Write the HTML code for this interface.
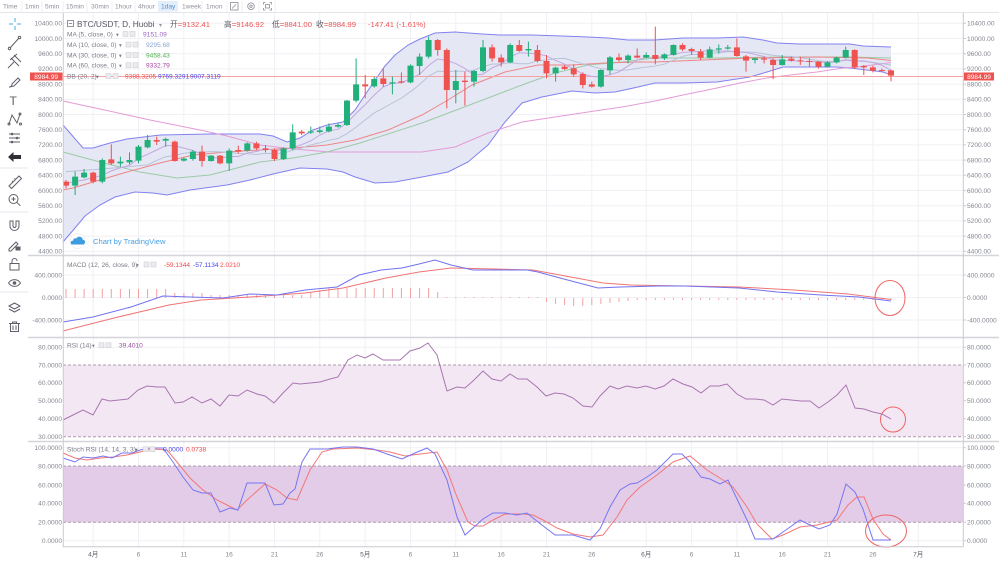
<!DOCTYPE html>
<html><head><meta charset="utf-8"><style>
html,body{margin:0;padding:0;background:#fff;width:999px;height:562px;overflow:hidden}
svg{display:block;font-family:"Liberation Sans","Noto Sans CJK SC",sans-serif}
.ax{font-size:6.6px;fill:#858892}
.lg{font-size:6.6px;fill:#7a7d87}
.tb{font-size:6.6px;fill:#90939c}
.ic{fill:none;stroke:#5d6068;stroke-width:1}
</style></head><body>
<svg width="999" height="562" viewBox="0 0 999 562" xmlns="http://www.w3.org/2000/svg">
<rect width="999" height="562" fill="#fff"/>

<!-- top bar -->
<line x1="0" y1="12.5" x2="999" y2="12.5" stroke="#e4e5ea"/>
<rect x="158" y="1" width="20" height="10.5" fill="#e4eefa"/>
<g stroke="#efeff2">
<line x1="22" y1="1" x2="22" y2="12"/><line x1="42" y1="1" x2="42" y2="12"/><line x1="63" y1="1" x2="63" y2="12"/><line x1="87" y1="1" x2="87" y2="12"/><line x1="112" y1="1" x2="112" y2="12"/><line x1="135" y1="1" x2="135" y2="12"/><line x1="202" y1="1" x2="202" y2="12"/><line x1="227" y1="1" x2="227" y2="12"/><line x1="242" y1="1" x2="242" y2="12"/><line x1="259" y1="1" x2="259" y2="12"/><line x1="275" y1="1" x2="275" y2="12"/>
</g>
<text class="tb" x="3" y="8.6">Time</text>
<text class="tb" x="25" y="8.6">1min</text>
<text class="tb" x="45" y="8.6">5min</text>
<text class="tb" x="66" y="8.6">15min</text>
<text class="tb" x="91" y="8.6">30min</text>
<text class="tb" x="115" y="8.6">1hour</text>
<text class="tb" x="138" y="8.6">4hour</text>
<text class="tb" x="161" y="8.6" style="fill:#4d8fd6">1day</text>
<text class="tb" x="182" y="8.6">1week</text>
<text class="tb" x="206" y="8.6">1mon</text>
<g fill="none" stroke="#8a8d96" stroke-width="0.8">
<rect x="230.5" y="2.5" width="7.5" height="7.5"/><path d="M232,8.5l4,-4"/>
<circle cx="251" cy="6.2" r="3.3"/><circle cx="251" cy="6.2" r="1.2"/>
<path d="M263.5,4.5v-2h2M269.5,2.5h2v2M271.5,8v2h-2M265.5,10h-2v-2"/><rect x="265.5" y="4.5" width="4" height="3.5"/>
</g>

<!-- left toolbar -->
<g stroke="#e6e7ec"><line x1="0" y1="168" x2="28" y2="168"/><line x1="0" y1="212" x2="28" y2="212"/><line x1="0" y1="292" x2="28" y2="292"/></g>
<path d="M15,18v4M15,26v4M9,24h4M17,24h4" stroke="#4aa8e8" stroke-width="1" fill="none"/>
<path class="ic" d="M10,48L19,38"/><circle class="ic" cx="9.5" cy="48.5" r="1.2"/><circle class="ic" cx="19.5" cy="37.5" r="1.2"/>
<path class="ic" d="M8,68L14,62M11,58l8,8M14,55l7,7M10,60l7,-6"/>
<path class="ic" d="M9,87c2,0 3,-1 3,-3l6,-6 2,2-6,6c-2,0-2,1-5,1z"/>
<text x="9.5" y="105" style="font-size:12px;fill:#5d6068">T</text>
<path class="ic" d="M9,124L12,115L17,123L20,114"/><circle class="ic" cx="9" cy="124" r="1"/><circle class="ic" cx="20" cy="114" r="1"/><circle class="ic" cx="20.5" cy="124" r="1"/>
<path class="ic" d="M9,134h11M9,138h11M9,142h11"/><circle cx="12" cy="134" r="1.3" fill="#5d6068"/><circle cx="17" cy="138" r="1.3" fill="#5d6068"/><circle cx="12" cy="142" r="1.3" fill="#5d6068"/>
<path d="M8,157l5.5,-5v3h7.5v4h-7.5v3z" fill="#2f3136"/>
<path class="ic" d="M9,186l10,-10 2.5,2.5 -10,10z M12,181l1.3,1.3M14.5,178.5l1.3,1.3"/>
<circle class="ic" cx="13.5" cy="199" r="4.5"/><path class="ic" d="M16.8,202.3l3.5,3.5M11.5,199h4M13.5,197v4"/>
<path class="ic" d="M10,221v5a4.5,4.5 0 0 0 9,0v-5h-3v5a1.5,1.5 0 0 1 -3,0v-5z"/>
<path class="ic" d="M9,249l7,-7 2,2 -7,7h-2z"/><rect x="15.5" y="246.5" width="5" height="4" fill="#5d6068"/>
<rect class="ic" x="10" y="263.5" width="9" height="6.5"/><path class="ic" d="M12,263.5v-2.5a2.5,2.5 0 0 1 5,0"/>
<path class="ic" d="M8.5,283c3,-4.5 9,-4.5 12,0c-3,4.5 -9,4.5 -12,0z"/><circle cx="14.5" cy="283" r="1.8" fill="#5d6068"/>
<path class="ic" d="M9,306l5.5,-3 5.5,3 -5.5,3z M9,309l5.5,3 5.5,-3"/>
<path class="ic" d="M10.5,323.5v8h8v-8M9,323.5h11M12.5,323.5v-1.5h4v1.5M13,325.5v4.5M16,325.5v4.5"/>

<!-- grid -->
<g stroke="#f1f1f5" stroke-width="1">
<line x1="63" y1="23.3" x2="963" y2="23.3"/><line x1="63" y1="38.5" x2="963" y2="38.5"/><line x1="63" y1="53.7" x2="963" y2="53.7"/><line x1="63" y1="68.9" x2="963" y2="68.9"/><line x1="63" y1="84.1" x2="963" y2="84.1"/><line x1="63" y1="99.3" x2="963" y2="99.3"/><line x1="63" y1="114.5" x2="963" y2="114.5"/><line x1="63" y1="129.7" x2="963" y2="129.7"/><line x1="63" y1="144.9" x2="963" y2="144.9"/><line x1="63" y1="160.1" x2="963" y2="160.1"/><line x1="63" y1="175.3" x2="963" y2="175.3"/><line x1="63" y1="190.5" x2="963" y2="190.5"/><line x1="63" y1="205.7" x2="963" y2="205.7"/><line x1="63" y1="220.9" x2="963" y2="220.9"/><line x1="63" y1="236.1" x2="963" y2="236.1"/><line x1="63" y1="251.3" x2="963" y2="251.3"/>
<line x1="63" y1="275" x2="963" y2="275"/><line x1="63" y1="297.5" x2="963" y2="297.5"/><line x1="63" y1="320" x2="963" y2="320"/>
<line x1="63" y1="347.3" x2="963" y2="347.3"/><line x1="63" y1="382.7" x2="963" y2="382.7"/><line x1="63" y1="400.7" x2="963" y2="400.7"/><line x1="63" y1="418.7" x2="963" y2="418.7"/>
<line x1="63" y1="447.7" x2="963" y2="447.7"/><line x1="63" y1="485" x2="963" y2="485"/><line x1="63" y1="503.3" x2="963" y2="503.3"/><line x1="63" y1="540.7" x2="963" y2="540.7"/>
<line x1="93.2" y1="13" x2="93.2" y2="547"/><line x1="138.5" y1="13" x2="138.5" y2="547"/><line x1="183.9" y1="13" x2="183.9" y2="547"/><line x1="229.2" y1="13" x2="229.2" y2="547"/><line x1="274.5" y1="13" x2="274.5" y2="547"/><line x1="319.8" y1="13" x2="319.8" y2="547"/><line x1="365.2" y1="13" x2="365.2" y2="547"/><line x1="410.5" y1="13" x2="410.5" y2="547"/><line x1="455.8" y1="13" x2="455.8" y2="547"/><line x1="501.2" y1="13" x2="501.2" y2="547"/><line x1="546.5" y1="13" x2="546.5" y2="547"/><line x1="591.8" y1="13" x2="591.8" y2="547"/><line x1="646.2" y1="13" x2="646.2" y2="547"/><line x1="691.6" y1="13" x2="691.6" y2="547"/><line x1="736.9" y1="13" x2="736.9" y2="547"/><line x1="782.2" y1="13" x2="782.2" y2="547"/><line x1="827.5" y1="13" x2="827.5" y2="547"/><line x1="872.9" y1="13" x2="872.9" y2="547"/><line x1="918.2" y1="13" x2="918.2" y2="547"/>
</g>

<!-- BB fill -->
<polygon fill="#e6e7f5" points="63,125 70,133 83,148 93,148 110,143 127,139 160,135 210,134 260,134 273,136 287,142 300,138 313,130 327,125 343,122 355,110 365,95 375,80 385,66 395,55 408,45 420,39 435,33 455,32 482,34 500,35 532,35 562,36 588,37 608,38 628,40 655,40 683,38 717,38 743,37 763,40 777,43 800,44 837,44 850,44 863,46 891,47 891,75 883,72 867,70 850,68 837,67 817,67 783,67 767,72 750,77 717,82 683,83 655,83 638,87 615,92 595,93 572,91 542,97 522,103 505,122 488,145 468,162 448,172 422,177 395,182 375,183 355,177 343,172 327,169 300,168 273,174 250,180 227,185 190,190 167,195 153,193 135,192 115,197 100,205 85,216 75,228 63,242"/>
<g fill="none" stroke="#8282ee" stroke-width="1">
<polyline points="63,125 70,133 83,148 93,148 110,143 127,139 160,135 210,134 260,134 273,136 287,142 300,138 313,130 327,125 343,122 355,110 365,95 375,80 385,66 395,55 408,45 420,39 435,33 455,32 482,34 500,35 532,35 562,36 588,37 608,38 628,40 655,40 683,38 717,38 743,37 763,40 777,43 800,44 837,44 850,44 863,46 891,47"/>
<polyline points="891,75 883,72 867,70 850,68 837,67 817,67 783,67 767,72 750,77 717,82 683,83 655,83 638,87 615,92 595,93 572,91 542,97 522,103 505,122 488,145 468,162 448,172 422,177 395,182 375,183 355,177 343,172 327,169 300,168 273,174 250,180 227,185 190,190 167,195 153,193 135,192 115,197 100,205 85,216 75,228 63,242"/>
</g>
<!-- MA60 pink -->
<polyline fill="none" stroke="#e39bd6" stroke-width="1" points="63,101 100,109 150,120 200,130 227,136 260,145 293,149 330,152 380,152 422,152 455,147 488,133 522,122 555,117 588,112 622,107 655,101 683,95 717,88 740,83 767,78 790,75 817,72 843,68 857,67 891,62.5"/>
<!-- MA30 green -->
<polyline fill="none" stroke="#9ccaa6" stroke-width="1" points="63,152 100,162 140,172 177,178 210,175 260,162 293,158 327,152 360,143 422,123 488,98 522,85 555,73 588,65 622,62 655,58 717,58 783,57 850,57 891,58"/>
<!-- BB basis red -->
<polyline fill="none" stroke="#ec8686" stroke-width="1" points="63,190 73,188 93,182 127,172 160,163 193,155 227,152 260,150 293,148 327,145 355,140 388,130 422,115 448,100 472,85 505,72 538,65 572,65 605,63 638,62 655,62 750,58 817,57 867,58 891,60.5"/>

<!-- price line -->
<line x1="63" y1="76.5" x2="963" y2="76.5" stroke="#f5a3a3" stroke-width="1"/>

<!-- MA5, MA10 and candles in zoom-space (y = 15 + z/3) -->
<g transform="translate(0,15) scale(1,0.333333)">
<polyline fill="none" stroke="#b7c3d8" stroke-width="1" vector-effect="non-scaling-stroke" points="66,470 102,462 129,455 147.6,449.5 156.7,436.3 165.7,425.1 174.8,421.6 183.9,414.7 192.9,412.2 202,411.5 211.1,409.7 220.1,410.7 229.2,411.9 238.3,415.4 247.3,415.9 256.4,418.6 265.5,415.3 274.5,415.4 283.6,414.4 292.7,405.8 301.7,399.1 310.8,389.5 319.8,383.4 328.9,375.9 338,370.4 347,356.1 356.1,336.4 365.2,314.6 374.2,293.8 383.3,279.3 392.4,264 401.4,249.4 410.5,230 419.6,209 428.6,183.5 437.7,168.3 446.8,170 455.8,168.4 464.9,169.2 474,165.3 483,154.8 492.1,147.5 501.2,146.5 510.2,143 519.3,146.3 528.4,146.1 537.4,137.4 546.5,135.1 555.6,130.9 564.6,130.3 573.7,138.4 582.8,146.4 591.8,153.7 600.9,161.2 610,163.1 619,166.3 628.1,164.7 637.2,160 646.2,156.2 655.3,153.2 664.4,147.2 673.4,135.2 682.5,124 691.6,118.3 700.6,118.4 709.7,115.2 718.8,113.1 727.8,110.1 736.9,110.4 746,110.9 755,112.2 764.1,116.5 773.1,121.2 782.2,123.7 791.3,124.6 800.3,128.1 809.4,132 818.5,137.7 827.5,139.6 836.6,138.7 845.7,136.1 854.7,138.5 863.8,139.2 872.9,142.6 881.9,145.7 891,150.1"/>
<polyline fill="none" stroke="#c2a8e0" stroke-width="1" vector-effect="non-scaling-stroke" points="66,505 84,495 102.3,481 111.3,467.6 120.4,458.6 129.5,451 138.5,430 147.6,418 156.7,405 165.7,391.6 174.8,392.2 183.9,399.4 192.9,406.4 202,418 211.1,427.8 220.1,429.2 229.2,424.4 238.3,424.4 247.3,413.8 256.4,409.4 265.5,401.4 274.5,406.4 283.6,404.4 292.7,397.8 301.7,388.8 310.8,377.6 319.8,360.4 328.9,347.4 338,343 347,323.4 356.1,295.2 365.2,268.8 374.2,240.2 383.3,215.6 392.4,204.6 401.4,203.6 410.5,191.2 419.6,177.8 428.6,151.4 437.7,132 446.8,136.4 455.8,145.6 464.9,160.6 474,179.2 483,177.6 492.1,158.6 501.2,147.4 510.2,125.4 519.3,113.4 528.4,114.6 537.4,116.2 546.5,122.8 555.6,136.4 564.6,147.2 573.7,162.2 582.8,176.6 591.8,184.6 600.9,186 610,179 619,170.4 628.1,152.8 637.2,135.4 646.2,126.4 655.3,127.4 664.4,124 673.4,117.6 682.5,112.6 691.6,110.2 700.6,109.4 709.7,106.4 718.8,108.6 727.8,107.6 736.9,110.6 746,112.4 755,118 764.1,124.4 773.1,134.8 782.2,136.8 791.3,136.8 800.3,138.2 809.4,139.6 818.5,140.6 827.5,142.4 836.6,140.6 845.7,134 854.7,137.4 863.8,137.8 872.9,142.8 881.9,150.8 891,166.2"/>
<!-- green wicks -->
<path fill="none" stroke="#22ab78" stroke-width="1" vector-effect="non-scaling-stroke" d="M75.1,470V540M84.1,462V490M102.3,430V505M120.4,425V455M129.5,412V448M138.5,390V445M147.6,360V400M165.7,368V395M183.9,428V440M192.9,405V437M211.1,420V440M229.2,400V468M247.3,382V410M283.6,397V435M292.7,328V405M310.8,335V357M319.8,335V356M328.9,325V352M338,325V338M347,255V333M356.1,130V262M374.2,185V218M392.4,185V238M410.5,148V205M419.6,115V180M428.6,65V130M455.8,165V265M474,165V215M483,75V172M510.2,85V145M528.4,80V125M555.6,155V200M600.9,163V218M610,123V178M628.1,118V145M646.2,112V130M664.4,115V135M673.4,88V122M709.7,95V130M718.8,88V116M727.8,90V104M755,128V145M782.2,120V152M827.5,138V158M836.6,125V145M845.7,95V130"/>
<!-- green bodies -->
<path fill="#22b07a" d="M72.1,485h6V512h-6ZM81.1,473h6V487h-6ZM99.3,435h6V500h-6ZM117.4,440h6V445h-6ZM126.5,435h6V442h-6ZM135.5,395h6V437h-6ZM144.6,375h6V397h-6ZM162.7,372h6V377h-6ZM180.9,431h6V437h-6ZM189.9,410h6V432h-6ZM208.1,422h6V438h-6ZM226.2,407h6V445h-6ZM244.3,385h6V407h-6ZM280.6,400h6V432h-6ZM289.7,352h6V400h-6ZM307.8,349h6V353h-6ZM316.8,346h6V351h-6ZM325.9,335h6V349h-6ZM335,330h6V335h-6ZM344,257h6V330h-6ZM353.1,208h6V257h-6ZM371.2,192h6V214h-6ZM389.4,202h6V206h-6ZM407.5,152h6V202h-6ZM416.6,125h6V153h-6ZM425.6,75h6V125h-6ZM452.8,198h6V225h-6ZM471,168h6V200h-6ZM480,97h6V168h-6ZM507.2,90h6V142h-6ZM525.4,102h6V106h-6ZM552.6,158h6V175h-6ZM597.9,165h6V215h-6ZM607,127h6V166h-6ZM625.1,122h6V135h-6ZM643.2,120h6V128h-6ZM661.4,118h6V130h-6ZM670.4,90h6V120h-6ZM706.7,103h6V128h-6ZM715.8,100h6V104h-6ZM724.8,97h6V101h-6ZM752,130h6V135h-6ZM779.2,133h6V150h-6ZM824.5,142h6V155h-6ZM833.6,128h6V142h-6ZM842.7,105h6V128h-6Z"/>
<!-- red wicks -->
<path fill="none" stroke="#ee5050" stroke-width="1" vector-effect="non-scaling-stroke" d="M66,495V520M93.2,470V505M111.3,388V450M156.7,365V390M174.8,377V440M202,392V455M220.1,420V448M238.3,392V415M256.4,380V405M265.5,390V412M274.5,400V438M301.7,345V360M365.2,180V250M383.3,160V215M401.4,172V205M437.7,72V122M446.8,100V280M464.9,170V272M492.1,88V140M501.2,118V155M519.3,75V110M537.4,90V142M546.5,120V190M564.6,150V165M573.7,148V185M582.8,172V220M591.8,200V218M619,115V140M637.2,100V130M655.3,35V148M682.5,85V108M691.6,98V120M700.6,102V135M736.9,70V125M746,120V170M764.1,125V145M773.1,130V192M791.3,125V140M800.3,125V150M809.4,130V155M818.5,138V160M854.7,103V162M863.8,150V180M872.9,152V172M881.9,160V170M891,164V199"/>
<!-- red bodies -->
<path fill="#ef5350" d="M63,500h6V512h-6ZM90.2,473h6V500h-6ZM108.3,433h6V445h-6ZM153.7,375h6V380h-6ZM171.8,380h6V438h-6ZM199,410h6V438h-6ZM217.1,422h6V445h-6ZM235.3,405h6V410h-6ZM253.4,385h6V400h-6ZM262.5,400h6V405h-6ZM271.5,405h6V432h-6ZM298.7,350h6V355h-6ZM362.2,208h6V214h-6ZM380.3,190h6V207h-6ZM398.4,199h6V203h-6ZM434.7,75h6V105h-6ZM443.8,105h6V225h-6ZM461.9,197h6V201h-6ZM489.1,97h6V130h-6ZM498.2,128h6V142h-6ZM516.3,90h6V108h-6ZM534.4,105h6V138h-6ZM543.5,138h6V175h-6ZM561.6,155h6V162h-6ZM570.7,160h6V178h-6ZM579.8,177h6V210h-6ZM588.8,208h6V215h-6ZM616,127h6V135h-6ZM634.2,122h6V128h-6ZM652.3,120h6V132h-6ZM679.5,90h6V103h-6ZM688.6,102h6V108h-6ZM697.6,110h6V128h-6ZM733.9,97h6V123h-6ZM743,124h6V137h-6ZM761.1,130h6V134h-6ZM770.1,135h6V150h-6ZM788.3,131h6V137h-6ZM797.3,136h6V139h-6ZM806.4,138h6V141h-6ZM815.5,140h6V155h-6ZM851.7,105h6V157h-6ZM860.8,153h6V157h-6ZM869.9,157h6V167h-6ZM878.9,165h6V168h-6ZM888,166h6V182h-6Z"/>
</g>

<!-- RSI / Stoch bands -->
<rect x="63" y="365" width="900" height="71.7" fill="#f4e7f4"/>
<rect x="63" y="466" width="900" height="56.3" fill="#e3cce8"/>
<g stroke="#ab9cab" stroke-width="1" stroke-dasharray="3,2">
<line x1="63" y1="365" x2="963" y2="365"/><line x1="63" y1="436.7" x2="963" y2="436.7"/>
<line x1="63" y1="466" x2="963" y2="466"/><line x1="63" y1="522.3" x2="963" y2="522.3"/>
</g>

<!-- MACD -->
<path fill="none" stroke="#f3a0a0" stroke-width="1" d="M66,298v-9M75.1,298v-9M84.1,298v-9M93.2,298v-9M102.3,298v-9M111.3,298v-9M120.4,298v-9M129.5,298v-9M138.5,298v-9M147.6,298v-9M156.7,298v-9M165.7,298v-9M174.8,298v-5M183.9,298v-5M192.9,298v-5M202,298v-5M211.1,298v-3M220.1,298v-3M229.2,298v-3M238.3,298v-3M247.3,298v-3M256.4,298v-3M265.5,298v-3M274.5,298v-3M283.6,298v-3M292.7,298v-3M301.7,298v-3M310.8,298v-6M319.8,298v-8M328.9,298v-10M338,298v-10M347,298v-10M356.1,298v-10M365.2,298v-10M374.2,298v-10M383.3,298v-10M392.4,298v-10M401.4,298v-10M410.5,298v-10M419.6,298v-10M428.6,298v-10M437.7,298v-6M446.8,298v-1M455.8,298v-1M464.9,298v-1M474,298v-1M483,298v-1M492.1,298v-1M501.2,298v-1M510.2,298v-1M519.3,298v-1M528.4,298v-1M537.4,298v-1M546.5,298v4M555.6,298v6M564.6,298v7M573.7,298v8M582.8,298v8M591.8,298v7M600.9,298v6M610,298v5M619,298v4M628.1,298v3M637.2,298v2M646.2,298v2M655.3,298v2M664.4,298v2M673.4,298v2M682.5,298v2M691.6,298v2M700.6,298v2M709.7,298v2M718.8,298v2M727.8,298v2M736.9,298v2M746,298v2M755,298v2M764.1,298v2M773.1,298v2M782.2,298v2M791.3,298v2M800.3,298v2M809.4,298v2M818.5,298v2M827.5,298v2M836.6,298v2M845.7,298v2M854.7,298v2M863.8,298v2M872.9,298v2M881.9,298v2M891,298v2"/>
<polyline fill="none" stroke="#f07575" stroke-width="1" points="63,331 114,318 169,305 201,300 250,297 305,293 343,288 386,278 419,272 451,268 495,269 533,270 560,275 603,283 631,285 685,286 739,287 794,290 848,294 891,299.5"/>
<polyline fill="none" stroke="#7272f0" stroke-width="1" points="63,322 93,317 131,307 163,296 190,297 223,298 250,294 277,295 305,290 337,287 359,275 381,270 402,268 419,264 435,260 451,265 473,270 495,270 527,270 538,272 560,278 598,288 620,287 658,286 685,286 739,288 777,292 821,295 859,297 891,301"/>

<!-- RSI line -->
<polyline fill="none" stroke="#a875b0" stroke-width="1" points="63,420 77,413 83,410 93,415 102,399 110,401 128,399 138,390 147,386 157,387 165,387 175,403 183,402 192,397 202,403 211,399 220,406 229,395 238,396 247,390 257,394 265,396 274,403 283,393 293,383 300,384 310,383 320,382 330,379 338,377 348,360 357,355 365,358 373,354 383,360 400,360 410,351 420,348 428,343 437,355 447,391 457,387 465,388 473,381 483,371 492,379 501,381 510,374 518,379 527,379 537,387 546,396 555,393 564,394 573,398 583,406 592,407 600,396 610,386 618,389 627,386 637,388 646,386 655,389 664,386 673,379 683,384 692,387 701,393 710,386 719,386 727,384 737,394 746,399 755,399 764,400 773,405 782,399 791,400 801,401 810,401 819,408 828,402 837,395 846,385 855,408 864,409 873,412 882,414 891,419"/>

<!-- Stoch lines -->
<polyline fill="none" stroke="#f27878" stroke-width="1" points="63,453 75,458 87,460 100,458 113,457 127,455 140,452 153,449 167,450 177,462 190,478 203,490 217,500 227,505 237,510 247,500 265,484 277,490 287,498 297,500 310,470 322,452 333,449 357,448 377,450 390,452 405,456 420,454 437,452 447,470 457,497 468,522 475,526 483,526 493,520 505,514 523,514 533,515 543,520 557,528 573,534 590,537 603,535 617,517 627,500 640,487 657,475 673,462 690,456 707,470 723,480 733,487 747,507 757,524 772,539 783,535 800,527 817,525 837,520 848,505 857,497 864,497 873,519 883,534 891,540"/>
<polyline fill="none" stroke="#7676f2" stroke-width="1" points="63,458 75,462 83,457 93,458 103,456 112,458 122,453 132,453 140,450 150,448 163,448 173,462 183,477 193,490 202,493 211,493 220,512 230,508 238,510 247,483 257,483 265,483 274,505 283,504 290,493 295,489 302,462 310,449 327,449 343,447 357,447 373,449 387,454 402,459 415,453 427,448 435,454 447,480 457,517 465,535 483,519 493,513 505,513 517,515 527,513 538,522 555,535 573,535 590,540 600,529 610,507 620,490 630,484 637,483 647,477 657,470 673,454 682,454 690,462 701,477 710,479 720,484 728,480 737,499 747,520 755,539 773,539 783,532 800,520 808,524 819,529 830,525 837,514 846,484 855,492 863,509 873,540 891,540"/>

<!-- red annotation circles -->
<g fill="none" stroke="#ef6464" stroke-width="1">
<ellipse cx="890" cy="298" rx="15" ry="17.5"/>
<circle cx="893" cy="419.5" r="12.5"/>
<ellipse cx="886" cy="531" rx="20.5" ry="16"/>
</g>

<!-- pane separators / axes -->
<g stroke="#d4d5db" stroke-width="1.5">
<line x1="28" y1="255.5" x2="999" y2="255.5"/><line x1="28" y1="337.5" x2="999" y2="337.5"/><line x1="28" y1="441.5" x2="999" y2="441.5"/>
</g>
<line x1="63" y1="546.7" x2="963" y2="546.7" stroke="#c9cad0" stroke-width="1"/>
<line x1="63.3" y1="13" x2="63.3" y2="547" stroke="#c9cad0" stroke-width="1"/>
<line x1="963.3" y1="13" x2="963.3" y2="547" stroke="#c9cad0" stroke-width="1"/>

<!-- right axis ticks -->
<path stroke="#c9cad0" d="M963,23.3h3M963,38.5h3M963,53.7h3M963,68.9h3M963,84.1h3M963,99.3h3M963,114.5h3M963,129.7h3M963,144.9h3M963,160.1h3M963,175.3h3M963,190.5h3M963,205.7h3M963,220.9h3M963,236.1h3M963,251.3h3M963,275h3M963,297.5h3M963,320h3M963,347.3h3M963,365h3M963,382.7h3M963,400.7h3M963,418.7h3M963,436.7h3M963,447.7h3M963,466h3M963,485h3M963,503.3h3M963,522.3h3M963,540.7h3"/>

<!-- right axis labels -->
<g class="ax">
<text x="967" y="25.6">10400.00</text><text x="967" y="40.8">10000.00</text><text x="967" y="56">9600.00</text><text x="967" y="71.2">9200.00</text><text x="967" y="86.4">8800.00</text><text x="967" y="101.6">8400.00</text><text x="967" y="116.8">8000.00</text><text x="967" y="132">7600.00</text><text x="967" y="147.2">7200.00</text><text x="967" y="162.4">6800.00</text><text x="967" y="177.6">6400.00</text><text x="967" y="192.8">6000.00</text><text x="967" y="208">5600.00</text><text x="967" y="223.2">5200.00</text><text x="967" y="238.4">4800.00</text><text x="967" y="253.6">4400.00</text>
<text x="967" y="277.3">400.0000</text><text x="967" y="299.8">0.0000</text><text x="967" y="322.3">-400.0000</text>
<text x="967" y="349.6">80.0000</text><text x="967" y="367.3">70.0000</text><text x="967" y="385">60.0000</text><text x="967" y="403">50.0000</text><text x="967" y="421">40.0000</text><text x="967" y="439">30.0000</text>
<text x="967" y="450">100.0000</text><text x="967" y="468.3">80.0000</text><text x="967" y="487.3">60.0000</text><text x="967" y="505.6">40.0000</text><text x="967" y="524.6">20.0000</text><text x="967" y="543">0.0000</text>
</g>
<!-- left axis labels -->
<g class="ax" text-anchor="end">
<text x="62" y="25.6">10400.00</text><text x="62" y="40.8">10000.00</text><text x="62" y="56">9600.00</text><text x="62" y="71.2">9200.00</text><text x="62" y="86.4">8800.00</text><text x="62" y="101.6">8400.00</text><text x="62" y="116.8">8000.00</text><text x="62" y="132">7600.00</text><text x="62" y="147.2">7200.00</text><text x="62" y="162.4">6800.00</text><text x="62" y="177.6">6400.00</text><text x="62" y="192.8">6000.00</text><text x="62" y="208">5600.00</text><text x="62" y="223.2">5200.00</text><text x="62" y="238.4">4800.00</text><text x="62" y="253.6">4400.00</text>
<text x="62" y="277.3">400.0000</text><text x="62" y="299.8">0.0000</text><text x="62" y="322.3">-400.0000</text>
<text x="62" y="349.6">80.0000</text><text x="62" y="367.3">70.0000</text><text x="62" y="385">60.0000</text><text x="62" y="403">50.0000</text><text x="62" y="421">40.0000</text><text x="62" y="439">30.0000</text>
<text x="62" y="450">100.0000</text><text x="62" y="468.3">80.0000</text><text x="62" y="487.3">60.0000</text><text x="62" y="505.6">40.0000</text><text x="62" y="524.6">20.0000</text><text x="62" y="543">0.0000</text>
</g>

<!-- price tags -->
<rect x="30" y="72.5" width="32.5" height="8" fill="#ef5350"/>
<text x="46.2" y="78.8" text-anchor="middle" style="font-size:6.6px;fill:#fff">8984.99</text>
<rect x="964" y="72.5" width="30" height="8" fill="#ef5350"/>
<text x="979" y="78.8" text-anchor="middle" style="font-size:6.6px;fill:#fff">8984.99</text>

<!-- date labels -->
<g class="ax" text-anchor="middle">
<text x="93.2" y="556.5" style="fill:#5f626c">4月</text><text x="138.5" y="556.5">6</text><text x="183.9" y="556.5">11</text><text x="229.2" y="556.5">16</text><text x="274.5" y="556.5">21</text><text x="319.8" y="556.5">26</text>
<text x="365.2" y="556.5" style="fill:#5f626c">5月</text><text x="410.5" y="556.5">6</text><text x="455.8" y="556.5">11</text><text x="501.2" y="556.5">16</text><text x="546.5" y="556.5">21</text><text x="591.8" y="556.5">26</text>
<text x="646.2" y="556.5" style="fill:#5f626c">6月</text><text x="691.6" y="556.5">6</text><text x="736.9" y="556.5">11</text><text x="782.2" y="556.5">16</text><text x="827.5" y="556.5">21</text><text x="872.9" y="556.5">26</text>
<text x="918.2" y="556.5" style="fill:#5f626c">7月</text>
</g>

<!-- main legend -->
<rect x="67.5" y="20.5" width="6" height="6" fill="none" stroke="#7a7d87" stroke-width="0.8"/><line x1="69" y1="23.5" x2="72" y2="23.5" stroke="#7a7d87" stroke-width="0.8"/>
<text x="77" y="27" style="font-size:8.3px;fill:#555862">BTC/USDT, D, Huobi</text>
<text x="159" y="27" style="font-size:6px;fill:#999">▾</text>
<g style="font-size:7.7px">
<text x="170" y="27" style="fill:#ef5555"><tspan style="fill:#555862">开</tspan>=9132.41</text>
<text x="224" y="27" style="fill:#ef5555"><tspan style="fill:#555862">高</tspan>=9146.92</text>
<text x="272" y="27" style="fill:#ef5555"><tspan style="fill:#555862">低</tspan>=8841.00</text>
<text x="316" y="27" style="fill:#ef5555"><tspan style="fill:#555862">收</tspan>=8984.99</text>
<text x="368" y="27" style="fill:#ef5555">-147.41 (-1.61%)</text>
</g>

<g class="lg">
<text x="67" y="36.3">MA (5, close, 0)</text><text x="116" y="36.3" style="font-size:5.5px">▾</text>
<text x="67" y="46.8">MA (10, close, 0)</text><text x="119" y="46.8" style="font-size:5.5px">▾</text>
<text x="67" y="57.3">MA (30, close, 0)</text><text x="119" y="57.3" style="font-size:5.5px">▾</text>
<text x="67" y="67.6">MA (60, close, 0)</text><text x="119" y="67.6" style="font-size:5.5px">▾</text>
<text x="67" y="78.3">BB (20, 2)</text><text x="96" y="78.3" style="font-size:5.5px">▾</text>
<text x="67" y="266.8">MACD (12, 26, close, 9)</text><text x="136" y="266.8" style="font-size:5.5px">▾</text>
<text x="67" y="347.6">RSI (14)</text><text x="92" y="347.6" style="font-size:5.5px">▾</text>
<text x="67" y="451.6">Stoch RSI (14, 14, 3, 3)</text><text x="135" y="451.6" style="font-size:5.5px">▾</text>
</g>
<g fill="#ececef" stroke="#c6c7cd" stroke-width="0.5">
<rect x="123" y="31.5" width="5" height="5"/><rect x="130" y="31.5" width="5" height="5"/>
<rect x="126" y="42" width="5" height="5"/><rect x="133" y="42" width="5" height="5"/>
<rect x="126" y="52.5" width="5" height="5"/><rect x="133" y="52.5" width="5" height="5"/>
<rect x="126" y="62.8" width="5" height="5"/><rect x="133" y="62.8" width="5" height="5"/>
<rect x="106" y="73.5" width="5" height="5"/><rect x="113" y="73.5" width="5" height="5"/>
<rect x="144" y="262" width="5" height="5"/><rect x="151" y="262" width="5" height="5"/>
<rect x="99" y="342.8" width="5" height="5"/><rect x="106" y="342.8" width="5" height="5"/>
<rect x="143" y="446.8" width="5" height="5"/><rect x="150" y="446.8" width="5" height="5"/>
</g>
<g style="font-size:6.6px">
<text x="143" y="36.3" style="fill:#9a63c6">9151.09</text>
<text x="146" y="46.8" style="fill:#8aa6d6">9295.68</text>
<text x="146" y="57.3" style="fill:#4caf50">9458.43</text>
<text x="146" y="67.6" style="fill:#a6449e">9332.79</text>
<text x="125" y="78.3" style="fill:#ef4a4a">9388.3205</text>
<text x="158" y="78.3" style="fill:#4848ef">9769.3291</text>
<text x="190" y="78.3" style="fill:#4848ef">9007.3119</text>
<text x="164" y="266.8" style="fill:#ef4a4a">-59.1344</text>
<text x="193" y="266.8" style="fill:#4848ef">-57.1134</text>
<text x="220" y="266.8" style="fill:#ef4a4a">2.0210</text>
<text x="119" y="347.6" style="fill:#9a4a9a">39.4010</text>
<text x="163" y="451.6" style="fill:#4848ef">0.0000</text>
<text x="186" y="451.6" style="fill:#ef4a4a">0.0738</text>
</g>

<!-- watermark -->
<circle cx="77.5" cy="241" r="7.5" fill="#fff" stroke="#eef0f4"/>
<path d="M72,244.5h10.5a2.4,2.4 0 0 0 0.3,-4.8a3.4,3.4 0 0 0 -6.4,-1.2a2.4,2.4 0 0 0 -3.4,2.4a1.8,1.8 0 0 0 -0.9,3.6z" fill="#3d9be0"/>
<text x="93" y="244" style="font-size:7.6px;fill:#45a2e8">Chart by TradingView</text>
</svg>
</body></html>
